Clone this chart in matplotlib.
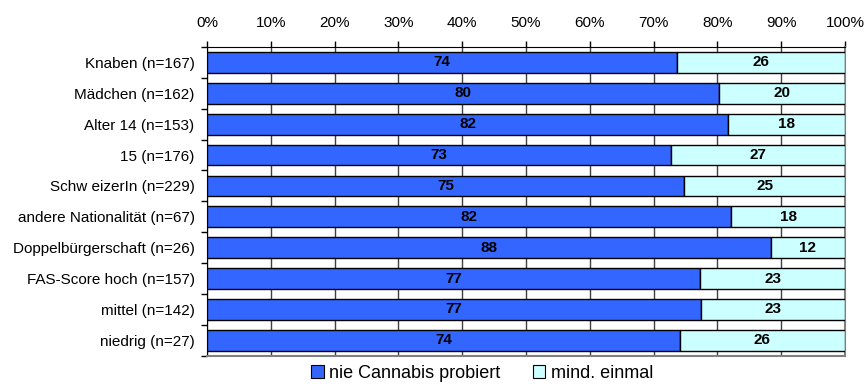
import numpy as np
import matplotlib
matplotlib.use("Agg")
import matplotlib.pyplot as plt
from matplotlib.patches import Patch

plt.rcParams['font.family'] = ['Liberation Sans', 'DejaVu Sans']

# Data (percent)
categories = ['Knaben (n=167)', 'Mädchen (n=162)', 'Alter 14 (n=153)', '15 (n=176)',
              'Schw eizerIn (n=229)', 'andere Nationalität (n=67)',
              'Doppelbürgerschaft (n=26)', 'FAS-Score hoch (n=157)',
              'mittel (n=142)', 'niedrig (n=27)']
nie = [73.7, 80.3, 81.7, 72.8, 74.8, 82.2, 88.4, 77.3, 77.4, 74.1]
mind = [26.3, 19.7, 18.3, 27.2, 25.2, 17.8, 11.6, 22.7, 22.6, 25.9]
series_names = ['nie Cannabis probiert', 'mind. einmal']
colors = ['#3366FF', '#CCFFFF']

fig = plt.figure(figsize=(8.64, 3.85), dpi=100)
ax = fig.add_axes([0.2396, 0.076, 0.7384, 0.802])

y = np.arange(len(categories))
h = 0.67
ax.barh(y, nie, height=h, color=colors[0], edgecolor='black', linewidth=1, zorder=3)
ax.barh(y, mind, left=nie, height=h, color=colors[1], edgecolor='black', linewidth=1, zorder=3)

for i in range(len(categories)):
    ax.text(nie[i] / 2, y[i], '%.0f' % nie[i], ha='center', va='center',
            fontsize=11, fontweight='bold', zorder=4)
    ax.text(nie[i] + mind[i] / 2, y[i], '%.0f' % mind[i], ha='center', va='center',
            fontsize=11, fontweight='bold', zorder=4)

ax.set_xlim(0, 100)
ax.set_ylim(len(categories) - 0.5, -0.5)

# x axis on top
ax.xaxis.tick_top()
ax.set_xticks(np.arange(0, 101, 10))
ax.set_xticklabels(['%d%%' % v for v in range(0, 101, 10)], fontsize=11)
ax.tick_params(axis='x', length=4, width=1, pad=8, color='black')
ax.grid(axis='x', color='#404040', linewidth=1, zorder=0)

# y labels at centers, small ticks between categories
ax.set_yticks(y)
ax.set_yticklabels(categories, fontsize=11)
ax.tick_params(axis='y', which='major', length=0, pad=9)
ax.set_yticks(np.arange(-0.5, len(categories), 1), minor=True)
ax.tick_params(axis='y', which='minor', length=4, width=1, color='black')

ax.spines['top'].set_color('black')
ax.spines['left'].set_color('black')
ax.spines['right'].set_color('#808080')
ax.spines['bottom'].set_color('#808080')
ax.spines['right'].set_linewidth(1.5)
ax.spines['bottom'].set_linewidth(1.5)

handles = [Patch(facecolor=colors[0], edgecolor='black', linewidth=0.8),
           Patch(facecolor=colors[1], edgecolor='black', linewidth=0.8)]
fig.legend(handles, series_names, loc='center', bbox_to_anchor=(0.558, 0.031),
           ncol=2, frameon=False, fontsize=13, handlelength=0.7, handleheight=0.7,
           handletextpad=0.3, columnspacing=1.8, borderaxespad=0, borderpad=0)

fig.savefig('out.png', dpi=100)
